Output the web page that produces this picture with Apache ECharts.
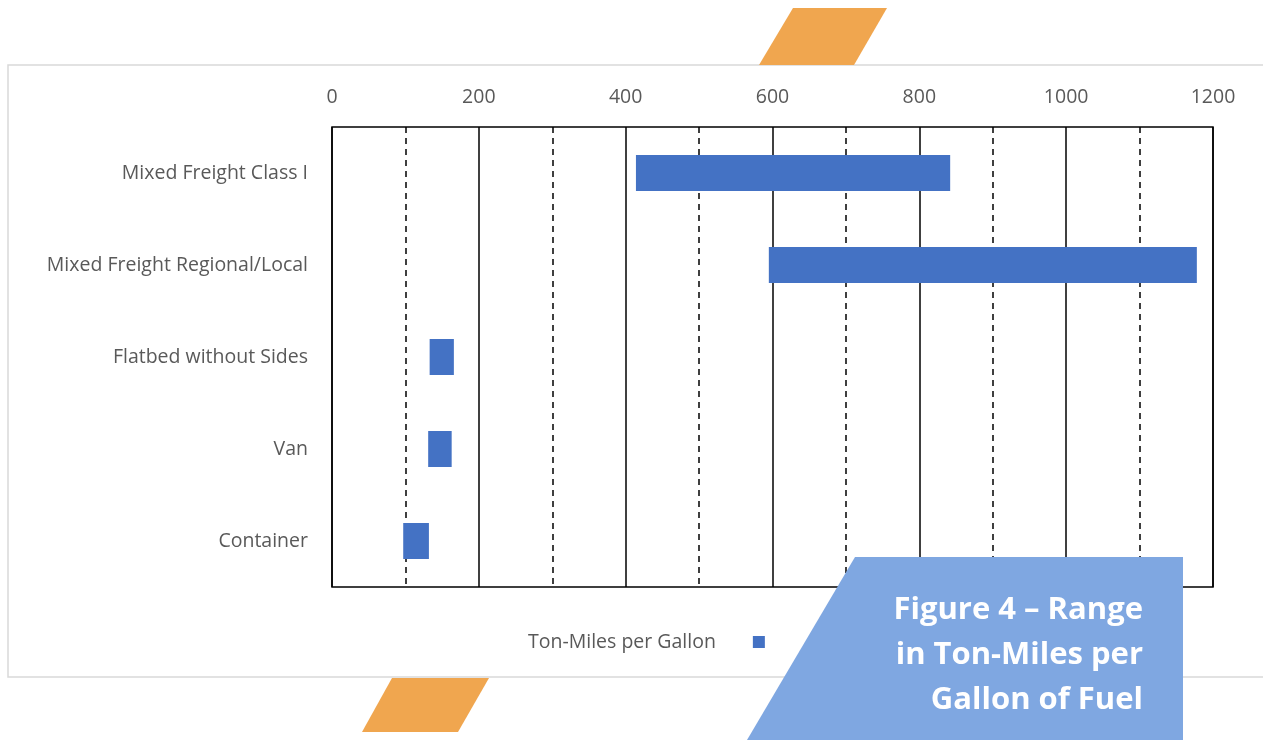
<!DOCTYPE html>
<html>
<head>
<meta charset="utf-8">
<script src="https://cdn.jsdelivr.net/npm/echarts@6/dist/echarts.min.js"></script>
<style>
html,body{margin:0;padding:0;background:#fff;}
#chart{width:1263px;height:740px;}
</style>
</head>
<body>
<div id="chart"></div>
<script>
const categories = ['Mixed Freight Class I', 'Mixed Freight Regional/Local', 'Flatbed without Sides', 'Van', 'Container'];
const lowValues = [414, 595, 133, 131, 97];
const highValues = [842, 1178, 166, 163, 132];
const seriesName = 'Ton-Miles per Gallon';
const figureLines = ['Figure 4 – Range', 'in Ton-Miles per', 'Gallon of Fuel'];

const FONT = '"Open Sans", "Liberation Sans", sans-serif';
const chart = echarts.init(document.getElementById('chart'), null, {renderer: 'canvas'});

const spans = highValues.map((h, i) => h - lowValues[i]);

chart.setOption({
  backgroundColor: '#ffffff',
  animation: false,
  grid: {left: 332, right: 50, top: 127, bottom: 153, show: true, borderColor: '#000', borderWidth: 1.5, z: 3},
  legend: {
    data: [seriesName],
    left: 523, top: 627,
    align: 'right',
    icon: 'rect', itemWidth: 12, itemHeight: 12,
    textStyle: {color: '#595959', fontSize: 19.5, fontFamily: FONT, padding: [0, 32, 0, 0]}
  },
  xAxis: {
    type: 'value', position: 'top', min: 0, max: 1200, interval: 200,
    axisLine: {show: false}, axisTick: {show: false},
    axisLabel: {color: '#595959', fontSize: 19.5, fontFamily: FONT, margin: 20, formatter: v => String(v)},
    splitLine: {show: true, lineStyle: {color: '#000', width: 1.5}},
    minorTick: {show: false, splitNumber: 2},
    minorSplitLine: {show: true, lineStyle: {color: '#000', width: 1.5, type: [6, 5]}}
  },
  yAxis: {
    type: 'category', data: categories, inverse: true,
    axisLine: {show: false}, axisTick: {show: false},
    axisLabel: {color: '#595959', fontSize: 19.5, fontFamily: FONT, margin: 24}
  },
  series: [
    {name: 'base', type: 'bar', stack: 'r', data: lowValues, barWidth: 36,
     itemStyle: {color: 'transparent'}, silent: true, z: 4},
    {name: seriesName, type: 'bar', stack: 'r', data: spans, barWidth: 36,
     itemStyle: {color: '#4472C4'}, z: 4}
  ],
  graphic: [
    {type: 'rect', shape: {x: 8, y: 65, width: 1270, height: 612},
     style: {fill: 'none', stroke: '#D9D9D9', lineWidth: 1.5}, z: 0, silent: true},
    {type: 'polygon', shape: {points: [[793, 8], [887, 8], [854, 65], [759, 65]]},
     style: {fill: '#F0A64F'}, z: 1, silent: true},
    {type: 'polygon', shape: {points: [[392, 678], [489, 678], [458, 732], [362, 732]]},
     style: {fill: '#F0A64F'}, z: 1, silent: true},
    {type: 'polygon', shape: {points: [[855, 557], [1183, 557], [1183, 740], [747, 740]]},
     style: {fill: '#7FA7E1'}, z: 100, silent: true},
    {type: 'text', right: 1263 - 1143, top: 588, z: 101, silent: true,
     style: {text: figureLines.join('\n'), fill: '#ffffff', font: 'bold 31px ' + FONT,
             textAlign: 'right', lineHeight: 45}}
  ]
});
</script>
</body>
</html>
